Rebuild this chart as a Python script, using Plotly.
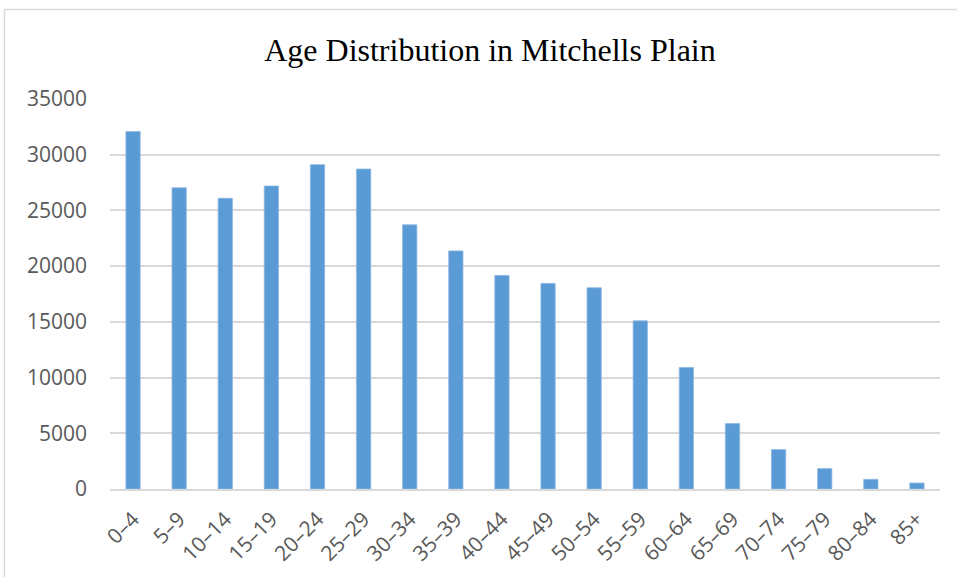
import plotly.graph_objects as go

age_groups = ["0–4", "5–9", "10–14", "15–19", "20–24", "25–29", "30–34", "35–39",
              "40–44", "45–49", "50–54", "55–59", "60–64", "65–69", "70–74",
              "75–79", "80–84", "85+"]
population = [32080, 27030, 26090, 27190, 29110, 28720, 23710, 21370,
              19170, 18450, 18060, 15090, 10910, 5870, 3540, 1830, 870, 540]
y_ticks = [0, 5000, 10000, 15000, 20000, 25000, 30000, 35000]

W, H = 957, 577
ml, mr, mt, mb = 110, 17, 99, 88

fig = go.Figure(go.Bar(
    x=age_groups, y=population,
    marker=dict(color="#5B9BD5", line=dict(color="#8DB8E2", width=0.8)),
))

pw, ph = W - ml - mr, H - mt - mb
def px_x(p): return (p - ml) / pw
def px_y(p): return (H - mb - p) / ph

fig.add_shape(type="rect", xref="paper", yref="paper",
              x0=px_x(4.5), x1=px_x(980), y0=px_y(600), y1=px_y(9.5),
              line=dict(color="#D9D9D9", width=1.5), fillcolor="rgba(0,0,0,0)", layer="below")

fig.update_layout(
    width=W, height=H,
    margin=dict(l=ml, r=mr, t=mt, b=mb, autoexpand=False),
    paper_bgcolor="white", plot_bgcolor="white",
    bargap=0.69,
    showlegend=False,
    title=dict(text="Age Distribution in Mitchells Plain",
               font=dict(family="Liberation Serif", size=32, color="#000000"),
               x=0.512, xanchor="center", y=0.913, yanchor="middle"),
    xaxis=dict(tickangle=-45, tickfont=dict(family="Open Sans", size=21, color="#595959"),
               showgrid=False, showline=True, linecolor="#D9D9D9", linewidth=1.5,
               ticks="", ticklabelstandoff=8, automargin=False),
    yaxis=dict(range=[0, 35000], tickvals=y_ticks, tickformat="d",
               tickfont=dict(family="Open Sans", size=21, color="#595959"),
               showgrid=True, gridcolor="#D9D9D9", gridwidth=1.5,
               zeroline=False, showline=False, ticks="", ticklabelstandoff=22,
               automargin=False),
)

fig.write_html("out.html")
